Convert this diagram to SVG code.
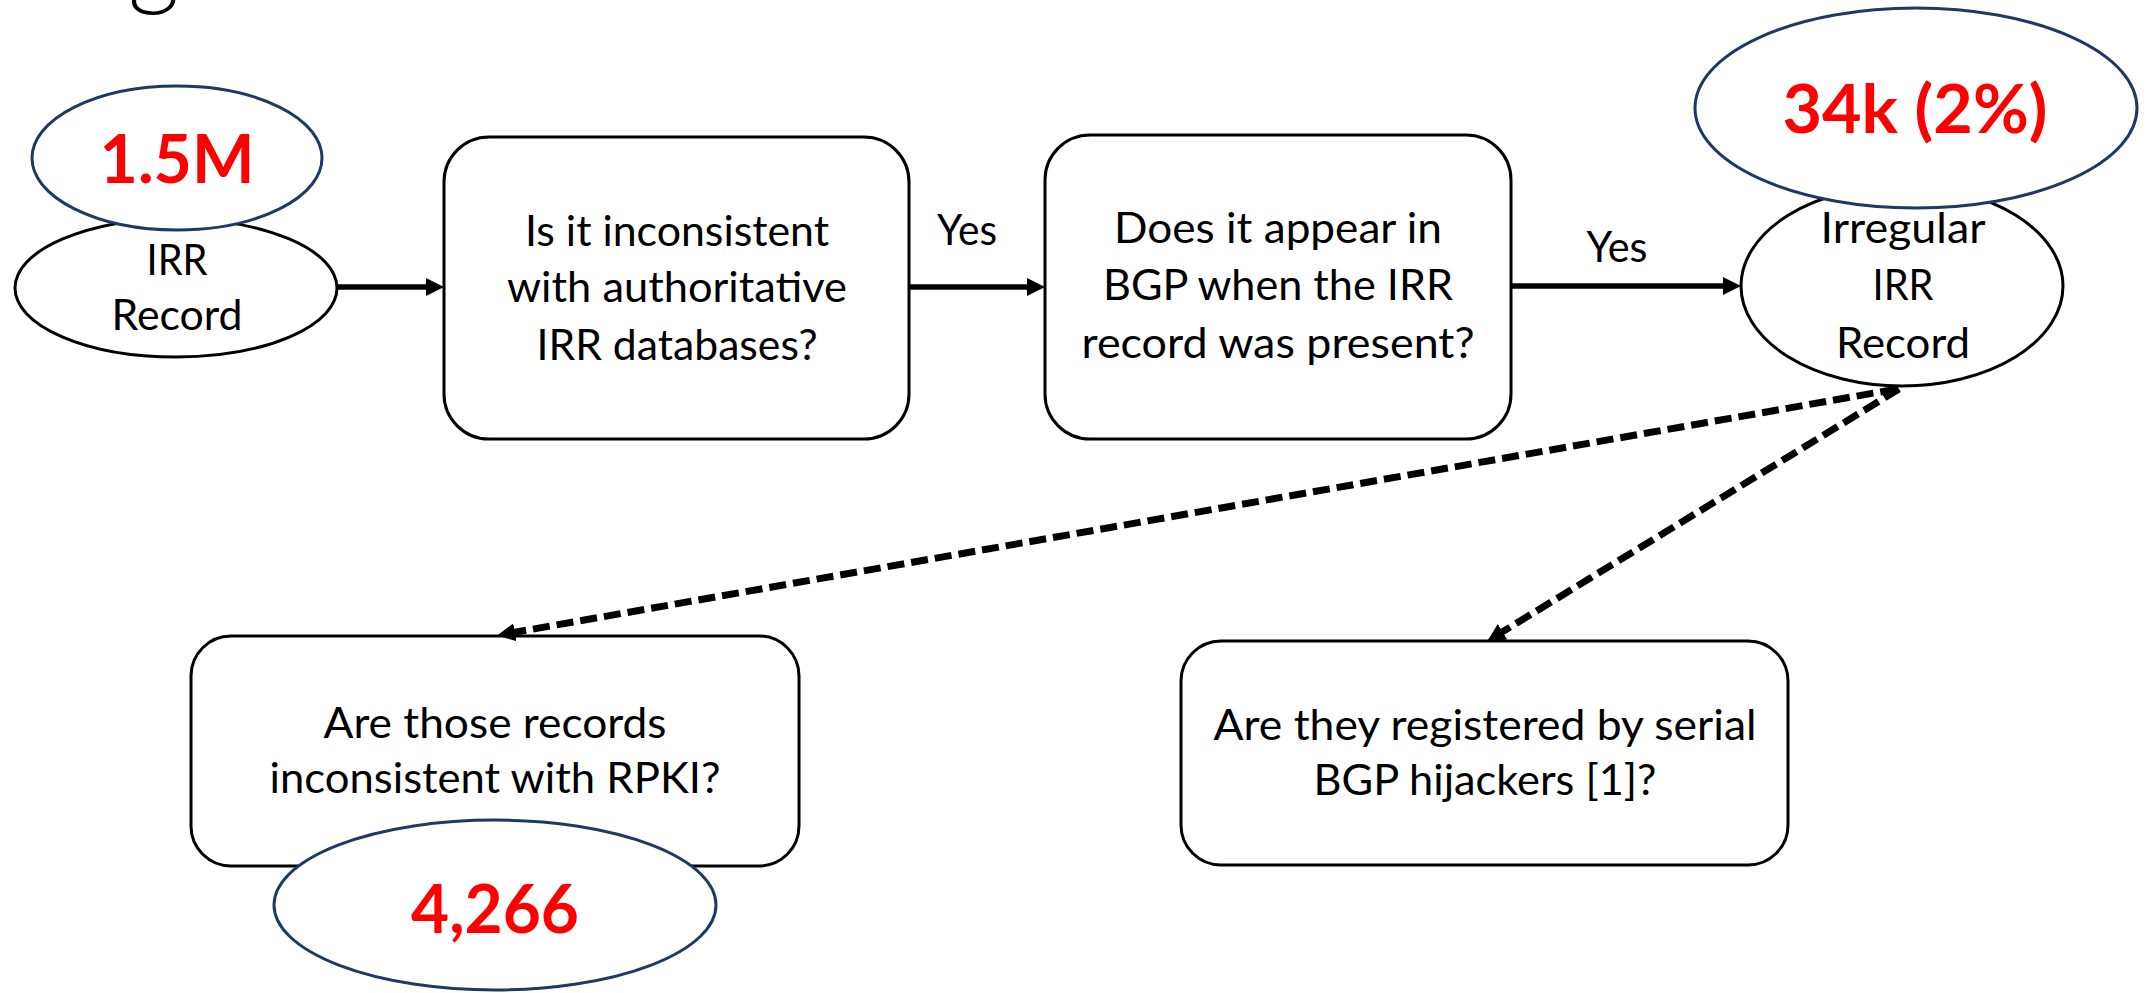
<svg xmlns="http://www.w3.org/2000/svg" width="2149" height="993" viewBox="0 0 2149 993">
<defs>
<style>
.box{fill:#fff;stroke:#000;stroke-width:3}
.ell{fill:#fff;stroke:#000;stroke-width:3}
.cnt{fill:#fff;stroke:#1F3864;stroke-width:3}
.t{font-family:Lato,"Liberation Sans",Arial,sans-serif;font-size:42px;fill:#000;text-anchor:middle}
.n{font-family:Lato,"Liberation Sans",Arial,sans-serif;font-size:67px;font-weight:bold;fill:#FF0000;text-anchor:middle}
.solid{fill:none;stroke:#000;stroke-width:5.5}
.dash{fill:none;stroke:#000;stroke-width:7;stroke-dasharray:17 7}
</style>
<marker id="ah" viewBox="0 0 18 18" refX="10" refY="9" markerWidth="18" markerHeight="18" markerUnits="userSpaceOnUse" orient="auto">
<path d="M0,0 L18,9 L0,18 z" fill="#000"/>
</marker>
</defs>

<text x="128" y="-4" style="font-family:Lato,'Liberation Sans',sans-serif;font-size:100px;font-weight:300;fill:#000">g</text>

<g id="irr-record">
<ellipse class="ell" cx="176" cy="288" rx="161" ry="69"/>
<text class="t" x="177" y="275" textLength="61" lengthAdjust="spacingAndGlyphs">IRR</text>
<text class="t" x="177" y="330" textLength="131" lengthAdjust="spacingAndGlyphs">Record</text>
</g>
<g id="count-1-5m">
<ellipse class="cnt" cx="177" cy="158" rx="145" ry="72"/>
<text class="n" x="177" y="183" textLength="155" lengthAdjust="spacingAndGlyphs">1.5M</text>
</g>

<g id="q-authoritative">
<rect class="box" x="444" y="137" width="465" height="302" rx="45" ry="45"/>
<text class="t" x="677" y="246" textLength="304" lengthAdjust="spacingAndGlyphs">Is it inconsistent</text>
<text class="t" x="677" y="302" textLength="340" lengthAdjust="spacingAndGlyphs">with authoritative</text>
<text class="t" x="677" y="360" textLength="281" lengthAdjust="spacingAndGlyphs">IRR databases?</text>
</g>

<g id="q-bgp">
<rect class="box" x="1045" y="135" width="466" height="304" rx="45" ry="45"/>
<text class="t" x="1278" y="243" textLength="328" lengthAdjust="spacingAndGlyphs">Does it appear in</text>
<text class="t" x="1278" y="300" textLength="350" lengthAdjust="spacingAndGlyphs">BGP when the IRR</text>
<text class="t" x="1278" y="358" textLength="393" lengthAdjust="spacingAndGlyphs">record was present?</text>
</g>

<g id="irregular-record">
<ellipse class="ell" cx="1902" cy="286" rx="161" ry="100"/>
<text class="t" x="1903" y="243" textLength="165" lengthAdjust="spacingAndGlyphs">Irregular</text>
<text class="t" x="1903" y="300" textLength="61" lengthAdjust="spacingAndGlyphs">IRR</text>
<text class="t" x="1903" y="358" textLength="134" lengthAdjust="spacingAndGlyphs">Record</text>
</g>
<g id="count-34k">
<ellipse class="cnt" cx="1916" cy="108" rx="221" ry="100"/>
<text class="n" x="1915" y="133" textLength="265" lengthAdjust="spacingAndGlyphs">34k (2%)</text>
</g>

<g id="q-rpki">
<rect class="box" x="191" y="636" width="608" height="230" rx="40" ry="40"/>
<text class="t" x="495" y="738" textLength="343" lengthAdjust="spacingAndGlyphs">Are those records</text>
<text class="t" x="495" y="793" textLength="451" lengthAdjust="spacingAndGlyphs">inconsistent with RPKI?</text>
</g>
<g id="count-4266">
<ellipse class="cnt" cx="495" cy="905" rx="221" ry="85"/>
<text class="n" x="495" y="933" textLength="168" lengthAdjust="spacingAndGlyphs">4,266</text>
</g>

<g id="q-hijackers">
<rect class="box" x="1181" y="641" width="607" height="224" rx="40" ry="40"/>
<text class="t" x="1485" y="740" textLength="543" lengthAdjust="spacingAndGlyphs">Are they registered by serial</text>
<text class="t" x="1485" y="795" textLength="343" lengthAdjust="spacingAndGlyphs">BGP hijackers [1]?</text>
</g>

<g id="connectors">
<line class="solid" x1="337" y1="287" x2="436" y2="287" marker-end="url(#ah)"/>
<line class="solid" x1="909" y1="287" x2="1037" y2="287" marker-end="url(#ah)"/>
<line class="solid" x1="1511" y1="286" x2="1733" y2="286" marker-end="url(#ah)"/>
<text class="t" x="967" y="245" textLength="60" lengthAdjust="spacingAndGlyphs">Yes</text>
<text class="t" x="1617" y="262" textLength="61" lengthAdjust="spacingAndGlyphs">Yes</text>
<line class="dash" x1="1897" y1="389" x2="505" y2="634" marker-end="url(#ah)"/>
<line class="dash" x1="1899" y1="389" x2="1494" y2="637" marker-end="url(#ah)"/>
</g>
</svg>
